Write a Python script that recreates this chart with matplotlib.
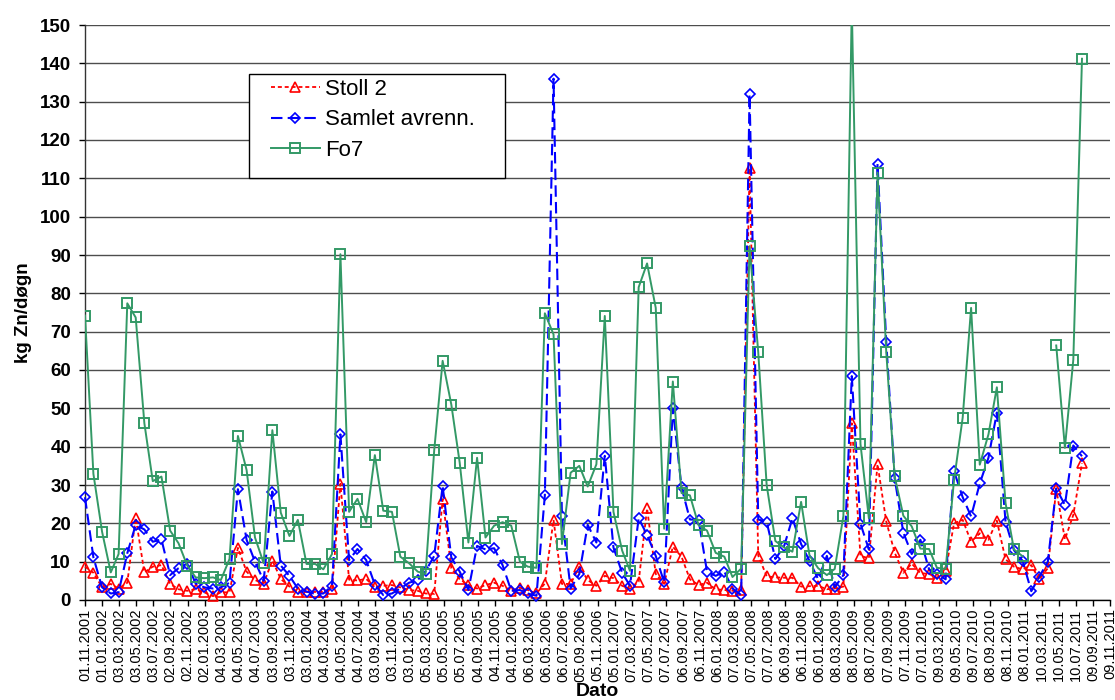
import matplotlib
matplotlib.use('Agg')
import matplotlib.pyplot as plt
from matplotlib.patches import Rectangle
import numpy as np
import pandas as pd

plt.rcParams['font.family'] = ['Liberation Sans', 'DejaVu Sans']

# ---- data (monthly, first value 01.11.2001) ----
start_month = '2001-11-01'
n_months = 118

stoll2 = [8.7, 7.1, 3.3, 4.2, 3.0, 4.5, 21.5, 7.2, 8.7, 9.1,
          4.2, 2.8, 2.4, 2.8, 2.0, 1.0, 2.0, 2.0, 13.6, 7.4,
          5.2, 4.3, 10.3, 5.5, 3.5, 2.1, 2.1, 2.1, 2.1, 2.8,
          30.3, 5.3, 5.1, 5.5, 3.3, 3.7, 3.9, 3.3, 2.6, 2.4,
          1.7, 1.6, 26.3, 8.3, 5.4, 3.9, 3.0, 3.9, 4.5, 3.7,
          2.4, 3.2, 2.6, 1.7, 4.3, 20.9, 4.2, 4.2, 8.7, 5.2,
          3.7, 6.3, 5.7, 3.7, 3.0, 4.8, 23.9, 6.8, 4.2, 13.9,
          11.3, 5.4, 3.9, 4.5, 2.8, 2.6, 2.4, 2.6, 112.6, 11.6,
          6.2, 5.9, 5.8, 5.8, 3.5, 3.6, 3.7, 2.8, 3.0, 3.5,
          46.1, 11.5, 10.9, 35.4, 20.5, 12.4, 7.1, 9.5, 7.0, 6.8,
          5.8, 7.5, 20.0, 20.9, 15.2, 17.4, 15.7, 20.7, 10.6, 8.7,
          8.0, 9.1, 5.4, 8.3, 28.9, 15.8, 22.2, 35.7]

samlet = [26.8, 11.1, 3.3, 1.7, 2.0, 12.2, 19.6, 18.4, 15.2, 15.8,
          6.5, 8.3, 9.5, 4.3, 3.3, 3.0, 3.3, 4.5, 28.9, 15.7,
          10.0, 5.0, 28.3, 9.0, 6.3, 3.0, 2.2, 1.6, 1.7, 3.7,
          43.2, 10.4, 13.3, 10.4, 4.0, 1.3, 1.7, 3.0, 4.5, 5.2,
          7.5, 11.5, 29.7, 11.1, 7.4, 2.6, 14.1, 13.2, 13.5, 9.1,
          2.4, 2.6, 1.7, 1.1, 27.3, 136.0, 21.9, 3.0, 6.8, 19.6,
          15.0, 37.6, 13.7, 7.1, 3.7, 21.3, 17.0, 11.5, 4.6, 50.0,
          29.4, 21.0, 20.9, 7.4, 6.3, 7.4, 3.0, 1.3, 132.0, 21.0,
          20.4, 10.7, 14.0, 21.3, 14.6, 10.2, 5.4, 11.5, 3.3, 6.5,
          58.4, 19.9, 13.2, 113.8, 67.4, 31.8, 17.6, 12.0, 15.7, 8.0,
          6.8, 5.4, 33.6, 26.8, 21.8, 30.4, 37.1, 48.9, 20.4, 13.0,
          10.2, 2.3, 6.0, 10.0, 29.1, 24.8, 40.3, 37.5]

fo7 = [74.2, 32.9, 17.8, 7.2, 12.0, 77.4, 73.7, 46.1, 31.0, 32.2,
       18.1, 14.8, 9.0, 5.9, 5.7, 5.9, 5.2, 10.7, 42.8, 33.9,
       16.3, 9.6, 44.3, 22.8, 16.7, 20.9, 9.4, 9.4, 8.0, 12.0,
       90.2, 23.0, 26.4, 20.3, 37.8, 23.3, 23.0, 11.3, 9.6, 7.4,
       6.8, 39.1, 62.4, 51.0, 35.8, 15.0, 37.1, 16.3, 19.4, 20.3,
       19.4, 10.0, 8.7, 8.4, 74.8, 69.3, 14.6, 33.2, 35.0, 29.6,
       35.4, 74.1, 23.0, 12.9, 7.6, 81.6, 87.8, 76.2, 18.6, 57.0,
       27.9, 27.3, 19.5, 18.1, 12.3, 11.3, 6.0, 8.2, 92.3, 64.6,
       30.0, 15.4, 13.7, 12.6, 25.6, 11.6, 8.3, 6.5, 8.1, 21.9,
       155.0, 40.7, 21.3, 111.5, 64.8, 32.3, 22.0, 19.2, 13.4, 13.3,
       8.4, 8.1, 31.2, 47.6, 76.2, 35.3, 43.2, 55.5, 25.3, 13.2,
       11.4, None, None, None, 66.4, 39.7, 62.7, 141.2]

tick_labels = ['01.11.2001', '01.01.2002', '03.03.2002', '03.05.2002', '03.07.2002',
               '02.09.2002', '02.11.2002', '02.01.2003', '04.03.2003', '04.05.2003',
               '04.07.2003', '03.09.2003', '03.11.2003', '03.01.2004', '04.03.2004',
               '04.05.2004', '04.07.2004', '03.09.2004', '03.11.2004', '03.01.2005',
               '05.03.2005', '05.05.2005', '05.07.2005', '04.09.2005', '04.11.2005',
               '04.01.2006', '06.03.2006', '06.05.2006', '06.07.2006', '05.09.2006',
               '05.11.2006', '05.01.2007', '07.03.2007', '07.05.2007', '07.07.2007',
               '06.09.2007', '06.11.2007', '06.01.2008', '07.03.2008', '07.05.2008',
               '07.07.2008', '06.09.2008', '06.11.2008', '06.01.2009', '08.03.2009',
               '08.05.2009', '08.07.2009', '07.09.2009', '07.11.2009', '07.01.2010',
               '09.03.2010', '09.05.2010', '09.07.2010', '08.09.2010', '08.11.2010',
               '08.01.2011', '10.03.2011', '10.05.2011', '10.07.2011', '09.09.2011',
               '09.11.2011']
y_ticks = list(range(0, 151, 10))

# ---- figure ----
dates = pd.date_range(start_month, periods=n_months, freq='MS')
tick_dates = pd.to_datetime(tick_labels, format='%d.%m.%Y')

W, H = 1115, 700
fig = plt.figure(figsize=(W / 100, H / 100), dpi=100)
ax = fig.add_axes([85 / W, 100 / H, 1025 / W, 575 / H])

red = '#FF0000'
blue = '#0000FF'
green = '#339966'

ax.plot(dates, np.array(stoll2, dtype=float), color=red, ls=(0, (2.2, 1.6)), lw=1.3,
        marker='^', ms=7.5, mfc='none', mec=red, mew=1.2, label='Stoll 2',
        zorder=3, clip_on=False)
ax.plot(dates, np.array(samlet, dtype=float), color=blue, ls=(0, (5.5, 2.5)), lw=1.5,
        marker='D', ms=5.5, mfc='none', mec=blue, mew=1.2, label='Samlet avrenn.',
        zorder=3, clip_on=False)
ax.plot(dates, np.array(fo7, dtype=float), color=green, ls='-', lw=1.4,
        marker='s', ms=7.5, mfc='none', mec=green, mew=1.4, label='Fo7',
        zorder=3)

ax.set_xlim(tick_dates[0], tick_dates[-1])
ax.set_ylim(0, 150)
ax.set_yticks(y_ticks)
ax.set_yticklabels([str(v) for v in y_ticks], fontsize=13.5, fontweight='bold')
ax.set_xticks(tick_dates)
ax.set_xticklabels(tick_labels, rotation=90, fontsize=10.5)

ax.yaxis.grid(True, color='#4d4d4d', lw=1.0)
ax.set_axisbelow(True)
for s in ['top', 'right']:
    ax.spines[s].set_visible(False)
ax.spines['left'].set_color('#333333')
ax.spines['bottom'].set_color('#000000')
ax.spines['left'].set_linewidth(1.0)
ax.spines['bottom'].set_linewidth(1.0)
ax.tick_params(axis='x', length=4, width=1, direction='out', pad=2)
ax.tick_params(axis='y', length=4, width=1, direction='out', pad=6)

ax.set_ylabel('kg Zn/døgn', fontsize=13.5, fontweight='bold', labelpad=6)
ax.set_xlabel('Dato', fontsize=14, fontweight='bold', labelpad=1)

# legend box
rect = Rectangle((164 / 1025, (600 - 178) / 575), 256 / 1025, 104 / 575,
                 transform=ax.transAxes, facecolor='white', edgecolor='black',
                 lw=1.0, zorder=4.5, clip_on=False)
ax.add_patch(rect)
leg = ax.legend(loc='upper left', bbox_to_anchor=((271 - 85) / 1025, (600 - 79) / 575),
                frameon=False, fontsize=16, handlelength=2.2, handletextpad=0.25,
                borderpad=0, borderaxespad=0, labelspacing=0.42, numpoints=1)
leg.set_zorder(5)

fig.savefig('out.png', dpi=100)
